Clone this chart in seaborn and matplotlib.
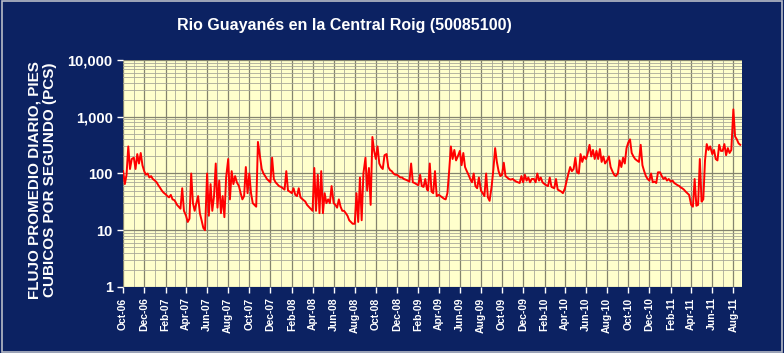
import pandas as pd
import numpy as np
import matplotlib
matplotlib.use("Agg")
import matplotlib.pyplot as plt
import matplotlib.dates as mdates
from matplotlib.ticker import FixedLocator, FuncFormatter
from matplotlib.patches import Rectangle
import seaborn as sns

# Caudal diario aproximado (pcs), ~6 lecturas por mes (días 1, 6, 11, 16, 21, 26)
month_start = pd.date_range("2006-10-01", "2011-08-01", freq="MS")
day_offsets = [0, 5, 10, 15, 20, 25]

flow = [
    [110, 65, 95, 300, 120, 180],      # Oct-06
    [190, 120, 220, 150, 230, 140],    # Nov-06
    [110, 95, 100, 85, 90, 80],        # Dec-06
    [75, 70, 62, 56, 50, 46],          # Jan-07
    [43, 40, 38, 42, 35, 34],          # Feb-07
    [32, 28, 26, 24, 55, 22],          # Mar-07
    [18, 14, 16, 100, 30, 22],         # Apr-07
    [30, 40, 20, 15, 11, 10],          # May-07
    [100, 18, 65, 22, 40, 150],        # Jun-07
    [25, 75, 20, 40, 17, 85],          # Jul-07
    [180, 35, 110, 65, 90, 70],        # Aug-07
    [60, 45, 35, 40, 130, 45],         # Sep-07
    [100, 45, 30, 28, 26, 360],        # Oct-07
    [200, 120, 100, 90, 80, 75],       # Nov-07
    [70, 190, 80, 70, 65, 60],         # Dec-07
    [58, 55, 52, 110, 50, 48],         # Jan-08
    [45, 55, 42, 40, 55, 38],          # Feb-08
    [36, 34, 32, 28, 26, 24],          # Mar-08
    [22, 125, 22, 95, 20, 110],        # Apr-08
    [20, 45, 30, 35, 30, 60],          # May-08
    [30, 28, 25, 35, 26, 22],          # Jun-08
    [22, 20, 18, 15, 14, 13],          # Jul-08
    [13, 45, 14, 85, 15, 100],         # Aug-08
    [190, 50, 125, 28, 440, 250],      # Sep-08
    [180, 300, 150, 130, 120, 210],    # Oct-08
    [220, 130, 115, 110, 100, 95],     # Nov-08
    [95, 90, 85, 85, 80, 78],          # Dec-08
    [75, 72, 150, 70, 68, 65],         # Jan-09
    [62, 95, 60, 58, 80, 52],          # Feb-09
    [50, 150, 48, 45, 110, 40],        # Mar-09
    [42, 40, 38, 36, 35, 45],          # Apr-09
    [110, 300, 180, 260, 170, 200],    # May-09
    [250, 140, 230, 130, 110, 95],     # Jun-09
    [80, 70, 100, 60, 55, 85],         # Jul-09
    [50, 45, 40, 100, 38, 33],         # Aug-09
    [60, 120, 280, 160, 110, 90],      # Sep-09
    [95, 155, 90, 85, 80, 78],         # Oct-09
    [80, 75, 72, 70, 68, 90],          # Nov-09
    [70, 95, 75, 85, 70, 80],          # Dec-09
    [80, 70, 100, 75, 85, 70],         # Jan-10
    [65, 62, 60, 85, 58, 56],          # Feb-10
    [55, 80, 52, 50, 48, 45],          # Mar-10
    [55, 75, 100, 130, 110, 120],      # Apr-10
    [190, 105, 100, 220, 160, 200],    # May-10
    [180, 230, 320, 200, 260, 180],    # Jun-10
    [250, 180, 270, 160, 200, 150],    # Jul-10
    [170, 200, 130, 110, 95, 90],      # Aug-10
    [100, 170, 130, 190, 150, 280],    # Sep-10
    [350, 400, 230, 200, 180, 170],    # Oct-10
    [160, 320, 140, 110, 90, 80],      # Nov-10
    [75, 100, 70, 72, 68, 105],        # Dec-10
    [105, 90, 80, 85, 75, 80],         # Jan-11
    [72, 75, 68, 65, 62, 60],          # Feb-11
    [57, 55, 52, 48, 45, 42],          # Mar-11
    [28, 26, 80, 27, 28, 180],         # Apr-11
    [32, 35, 170, 330, 260, 300],      # May-11
    [220, 260, 180, 170, 320, 250],    # Jun-11
    [250, 330, 210, 280, 230, 260],    # Jul-11
    [1350, 450, 400, 340, 320],        # Aug-11
]

dates, values = [], []
for m, row in zip(month_start, flow):
    for off, v in zip(day_offsets, row):
        dates.append(m + pd.Timedelta(days=off))
        values.append(v)
df = pd.DataFrame({"fecha": dates, "flujo": values})

navy = "#0c2262"
fig = plt.figure(figsize=(7.84, 3.53), dpi=100, facecolor=navy)
fig.patches.append(Rectangle((0.002, 0.003), 0.995, 0.993, transform=fig.transFigure,
                             fill=False, edgecolor="#b8bcc8", linewidth=1.2))
ax = fig.add_axes([0.157, 0.187, 0.789, 0.643])
ax.set_facecolor("#ffffcc")

sns.lineplot(data=df, x="fecha", y="flujo", color="#ff0000", linewidth=1.4, ax=ax)

ax.set_yscale("log")
ax.set_ylim(1, 10000)
ax.set_xlim(pd.Timestamp("2006-10-01"), pd.Timestamp("2011-08-25"))

ax.xaxis.set_major_locator(mdates.MonthLocator(bymonth=[2, 4, 6, 8, 10, 12]))
ax.xaxis.set_minor_locator(mdates.MonthLocator())
ax.xaxis.set_major_formatter(mdates.DateFormatter("%b-%y"))
ax.yaxis.set_major_locator(FixedLocator([1, 10, 100, 1000, 10000]))
ax.yaxis.set_minor_locator(FixedLocator([k * 10 ** e for e in range(4) for k in range(2, 10)]))
ax.yaxis.set_major_formatter(FuncFormatter(lambda v, p: f"{int(v):,}"))
ax.yaxis.set_minor_formatter(FuncFormatter(lambda v, p: ""))

ax.grid(which="major", color="#84846f", linewidth=0.9)
ax.grid(which="minor", color="#a8a898", linewidth=0.6)
ax.set_axisbelow(True)
for s in ax.spines.values():
    s.set_visible(False)

ax.tick_params(axis="x", which="major", colors="white", length=4, width=1, labelsize=7.5, labelrotation=90)
ax.tick_params(axis="x", which="minor", length=0)
ax.tick_params(axis="y", which="major", colors="white", length=4, width=1, labelsize=10.5)
ax.tick_params(axis="y", which="minor", length=0)
for lab in ax.get_xticklabels() + ax.get_yticklabels():
    lab.set_fontweight("bold")
    lab.set_family("Liberation Sans")
ax.set_xlabel("")
ax.set_ylabel("")

fig.text(0.439, 0.929, "Rio Guayanés en la Central Roig (50085100)", color="white",
         fontsize=11.5, fontweight="bold", family="Liberation Sans", ha="center", va="center")
fig.text(0.054, 0.49, "FLUJO PROMEDIO DIARIO, PIES\nCUBICOS POR SEGUNDO (PCS)", color="white",
         fontsize=11, fontweight="bold", family="Liberation Sans", rotation=90,
         ha="center", va="center", linespacing=1.2)

fig.savefig("out.png", dpi=100, facecolor=navy)
